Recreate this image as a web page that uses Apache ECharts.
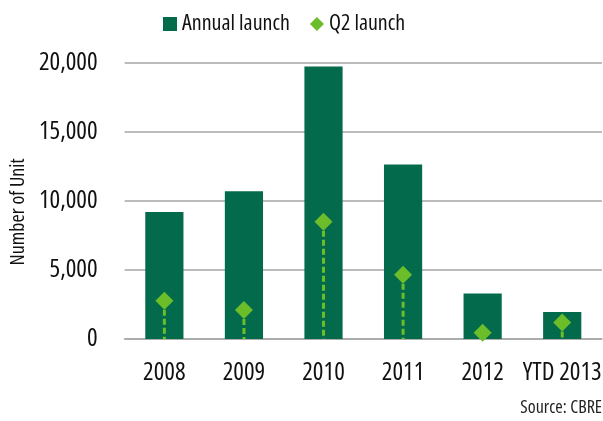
<!DOCTYPE html>
<html><head><meta charset="utf-8">
<script src="https://cdn.jsdelivr.net/npm/echarts@6/dist/echarts.min.js"></script>
<style>html,body{margin:0;padding:0;background:#fff}#c{width:603px;height:421px}</style>
</head><body><div id="c"></div>
<script>
const categories = ['2008', '2009', '2010', '2011', '2012', 'YTD 2013'];
const annualLaunch = [9200, 10700, 19750, 12650, 3300, 1950];
const q2Launch = [2780, 2100, 8500, 4650, 450, 1200];
const yTicks = [0, 5000, 10000, 15000, 20000];

const FONT = '"Open Sans", sans-serif';
const W = 'condensed 500';
const chart = echarts.init(document.getElementById('c'), null, {renderer: 'canvas'});
chart.setOption({
  animation: false,
  textStyle: {fontFamily: FONT, fontWeight: W},
  legend: {
    top: 8, left: 158, itemGap: 20, itemWidth: 14, itemHeight: 14,
    textStyle: {fontFamily: FONT, fontWeight: W, fontSize: 22, color: '#111'},
    data: [{name: 'Annual launch', icon: 'rect'}, {name: 'Q2 launch', icon: 'diamond'}]
  },
  grid: {left: 104, right: 1, top: 63, bottom: 82, containLabel: false},
  xAxis: {
    type: 'category', data: categories,
    axisLine: {lineStyle: {color: '#a6a6a6', width: 1.5}},
    axisTick: {length: 7, lineStyle: {color: '#a6a6a6', width: 1.5}},
    axisLabel: {interval: 0, fontFamily: FONT, fontWeight: W, fontSize: 25, color: '#111', margin: 21}
  },
  yAxis: {
    type: 'value', min: yTicks[0], max: yTicks[yTicks.length - 1], interval: 5000,
    name: 'Number of Unit', nameLocation: 'middle', nameGap: 81,
    nameTextStyle: {fontFamily: FONT, fontWeight: 'semi-condensed 500', fontSize: 20, color: '#111', padding: [0, 22, 0, 0]},
    axisLine: {show: false}, axisTick: {show: false},
    axisLabel: {fontFamily: FONT, fontWeight: W, fontSize: 25, color: '#111', margin: 27,
      formatter: v => v.toLocaleString('en-US')},
    splitLine: {lineStyle: {color: '#a6a6a6', width: 1.5}}
  },
  series: [
    {name: 'Annual launch', type: 'bar', data: annualLaunch, barWidth: '48%',
     itemStyle: {color: '#036b4c'}, z: 1},
    {name: 'drop', type: 'custom', z: 2, silent: true,
     data: q2Launch.map((v, i) => [i, v]),
     renderItem: (params, api) => {
       const top = api.coord([api.value(0), api.value(1)]);
       const bot = api.coord([api.value(0), 0]);
       return {type: 'line', shape: {x1: top[0], y1: top[1], x2: bot[0], y2: bot[1]},
         style: {stroke: '#6cbd2a', lineWidth: 3, lineDash: [6, 3], opacity: 1}};
     }},
    {name: 'Q2 launch', type: 'scatter', data: q2Launch, symbol: 'diamond', symbolSize: 18,
     itemStyle: {color: '#6cbd2a', opacity: 1}, z: 3}
  ],
  graphic: [{type: 'text', right: 1, top: 399,
    style: {text: 'Source: CBRE', fontFamily: FONT, fontWeight: W, fontSize: 18, fill: '#222'}}]
});
</script></body></html>
